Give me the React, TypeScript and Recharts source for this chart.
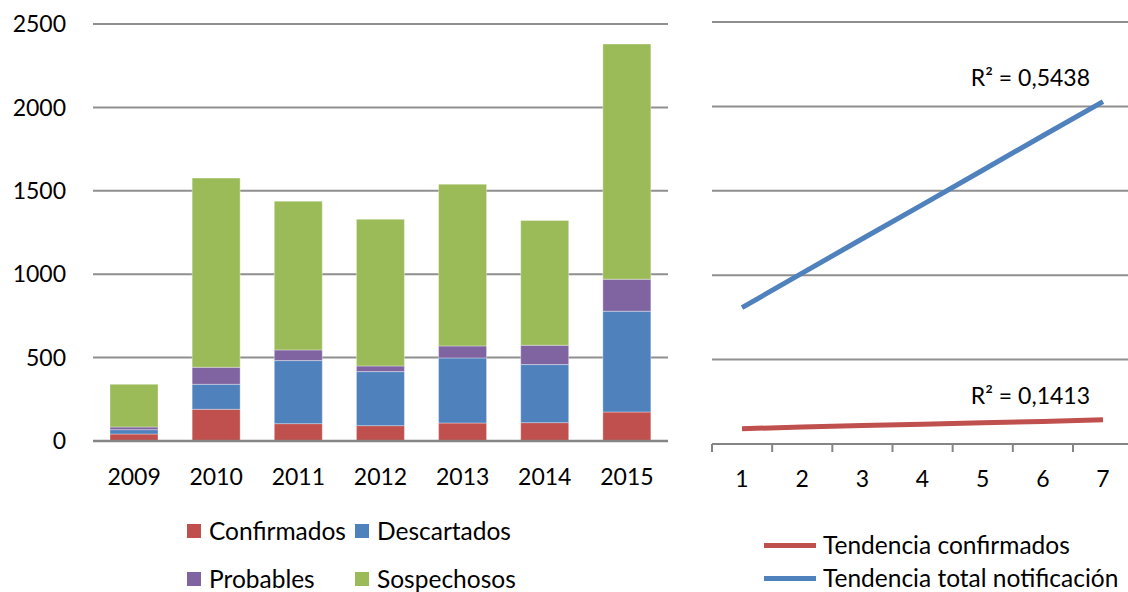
import React from "react";
import { BarChart, Bar, XAxis, YAxis, CartesianGrid, LineChart, Line, Legend } from "recharts";

const years = ["2009", "2010", "2011", "2012", "2013", "2014", "2015"];
const confirmados = [42, 190, 104, 92, 108, 110, 174];
const descartados = [26, 150, 378, 324, 390, 348, 604];
const probables = [16, 102, 64, 34, 72, 116, 192];
const sospechosos = [256, 1134, 892, 880, 970, 748, 1410];
const yTicks = [0, 500, 1000, 1500, 2000, 2500];

const periods = ["1", "2", "3", "4", "5", "6", "7"];
const tendenciaConfirmados = [91, 100, 109, 117, 126, 134, 143];
const tendenciaTotal = [808, 1012, 1216, 1418, 1622, 1826, 2028];
const r2Confirmados = "R² = 0,1413";
const r2Total = "R² = 0,5438";

const FONT = "Lato, 'Open Sans', sans-serif";
const FONT_SIZE = 23;
const LEGEND_SIZE = 24.5;
const GRID = "#8f8f8f";
const AXIS = "#858585";

const SERIES = [
  { key: "Confirmados", color: "#C0504D" },
  { key: "Descartados", color: "#4F81BD" },
  { key: "Probables", color: "#8064A2" },
  { key: "Sospechosos", color: "#9BBB59" },
];

const TRENDS = [
  { key: "Tendencia confirmados", color: "#C0504D", r2: r2Confirmados },
  { key: "Tendencia total notificación", color: "#4F81BD", r2: r2Total },
];

const barData = years.map((year, i) => ({
  year,
  Confirmados: confirmados[i],
  Descartados: descartados[i],
  Probables: probables[i],
  Sospechosos: sospechosos[i],
}));

const lineData = periods.map((p, i) => ({
  period: p,
  "Tendencia confirmados": tendenciaConfirmados[i],
  "Tendencia total notificación": tendenciaTotal[i],
}));

const tickStyle = { fill: "#000", fontSize: FONT_SIZE, fontFamily: FONT };

// half of the distance between two category points on the right chart
const HALF_STEP = 30;

function PeriodTick(props: any) {
  const { x, y, payload } = props;
  return (
    <g>
      <line x1={x - HALF_STEP} x2={x - HALF_STEP} y1={y} y2={y + 8} stroke={AXIS} strokeWidth={2} />
      <text x={x} y={y + 43} textAnchor="middle" fill="#000" fontSize={FONT_SIZE} fontFamily={FONT}>
        {payload.value}
      </text>
    </g>
  );
}

function makeR2Label(text: string, last: number) {
  return (props: any) => {
    if (props.index !== last) return null;
    return (
      <text
        key={text}
        x={props.x - 13}
        y={props.y - 24}
        dy="0.35em"
        textAnchor="end"
        fill="#000"
        fontSize={FONT_SIZE}
        fontFamily={FONT}
      >
        {text}
      </text>
    );
  };
}

const renderBarLegend = () => (
  <div
    style={{
      display: "grid",
      gridTemplateColumns: "168px auto",
      rowGap: 26,
      fontFamily: FONT,
      fontSize: LEGEND_SIZE,
      color: "#000",
      lineHeight: "22px",
    }}
  >
    {SERIES.map((s) => (
      <div key={s.key} style={{ display: "flex", alignItems: "center", whiteSpace: "nowrap" }}>
        <span style={{ width: 14, height: 14, background: s.color, marginRight: 8, display: "inline-block" }} />
        {s.key}
      </div>
    ))}
  </div>
);

const renderLineLegend = () => (
  <div style={{ fontFamily: FONT, fontSize: LEGEND_SIZE, color: "#000", lineHeight: "22px" }}>
    {TRENDS.map((t, i) => (
      <div
        key={t.key}
        style={{ display: "flex", alignItems: "center", whiteSpace: "nowrap", marginTop: i ? 11 : 0 }}
      >
        <span style={{ width: 52, height: 5, background: t.color, marginRight: 7, display: "inline-block" }} />
        {t.key}
      </div>
    ))}
  </div>
);

export default function App() {
  return (
    <div
      style={{
        position: "absolute",
        left: 0,
        top: 0,
        width: 1128,
        height: 592,
        overflow: "hidden",
        background: "#fff",
        fontFamily: FONT,
      }}
    >
      <div style={{ position: "absolute", left: 0, top: 0 }}>
        <BarChart width={690} height={592} data={barData} margin={{ top: 24, right: 22, left: 0, bottom: 111 }}>
          <CartesianGrid vertical={false} stroke={GRID} strokeWidth={2} />
          <XAxis
            dataKey="year"
            height={40}
            tickLine={false}
            tickSize={0}
            tickMargin={28}
            axisLine={{ stroke: AXIS, strokeWidth: 2.5 }}
            tick={tickStyle}
          />
          <YAxis
            width={93}
            domain={[0, 2500]}
            ticks={yTicks}
            axisLine={false}
            tickLine={false}
            tickSize={0}
            tickMargin={27}
            tick={tickStyle}
          />
          {SERIES.map((s) => (
            <Bar
              key={s.key}
              dataKey={s.key}
              stackId="a"
              fill={s.color}
              barSize={48}
              stroke="#ffffff"
              strokeOpacity={0.35}
              strokeWidth={1}
              isAnimationActive={false}
            />
          ))}
          <Legend
            layout="vertical"
            align="center"
            verticalAlign="middle"
            content={renderBarLegend}
            wrapperStyle={{ left: 187, top: 520, width: 420 }}
          />
        </BarChart>
      </div>
      <div style={{ position: "absolute", left: 690, top: 0, width: 438, height: 592, overflow: "hidden" }}>
        <LineChart width={450} height={592} data={lineData} margin={{ top: 22, right: 7, left: 22, bottom: 108 }}>
          <CartesianGrid vertical={false} stroke={GRID} strokeWidth={2} />
          <XAxis
            dataKey="period"
            height={40}
            padding={{ left: HALF_STEP, right: HALF_STEP }}
            tickLine={false}
            tickSize={0}
            tickMargin={0}
            axisLine={{ stroke: AXIS, strokeWidth: 2 }}
            tick={<PeriodTick />}
            interval={0}
          />
          <YAxis hide domain={[0, 2500]} ticks={yTicks} />
          {TRENDS.map((t) => (
            <Line
              key={t.key}
              dataKey={t.key}
              stroke={t.color}
              strokeWidth={5}
              dot={false}
              label={makeR2Label(t.r2, periods.length - 1)}
              isAnimationActive={false}
            />
          ))}
          <Legend
            layout="vertical"
            align="center"
            verticalAlign="middle"
            content={renderLineLegend}
            wrapperStyle={{ left: 74, top: 534, width: 364 }}
          />
        </LineChart>
      </div>
    </div>
  );
}
